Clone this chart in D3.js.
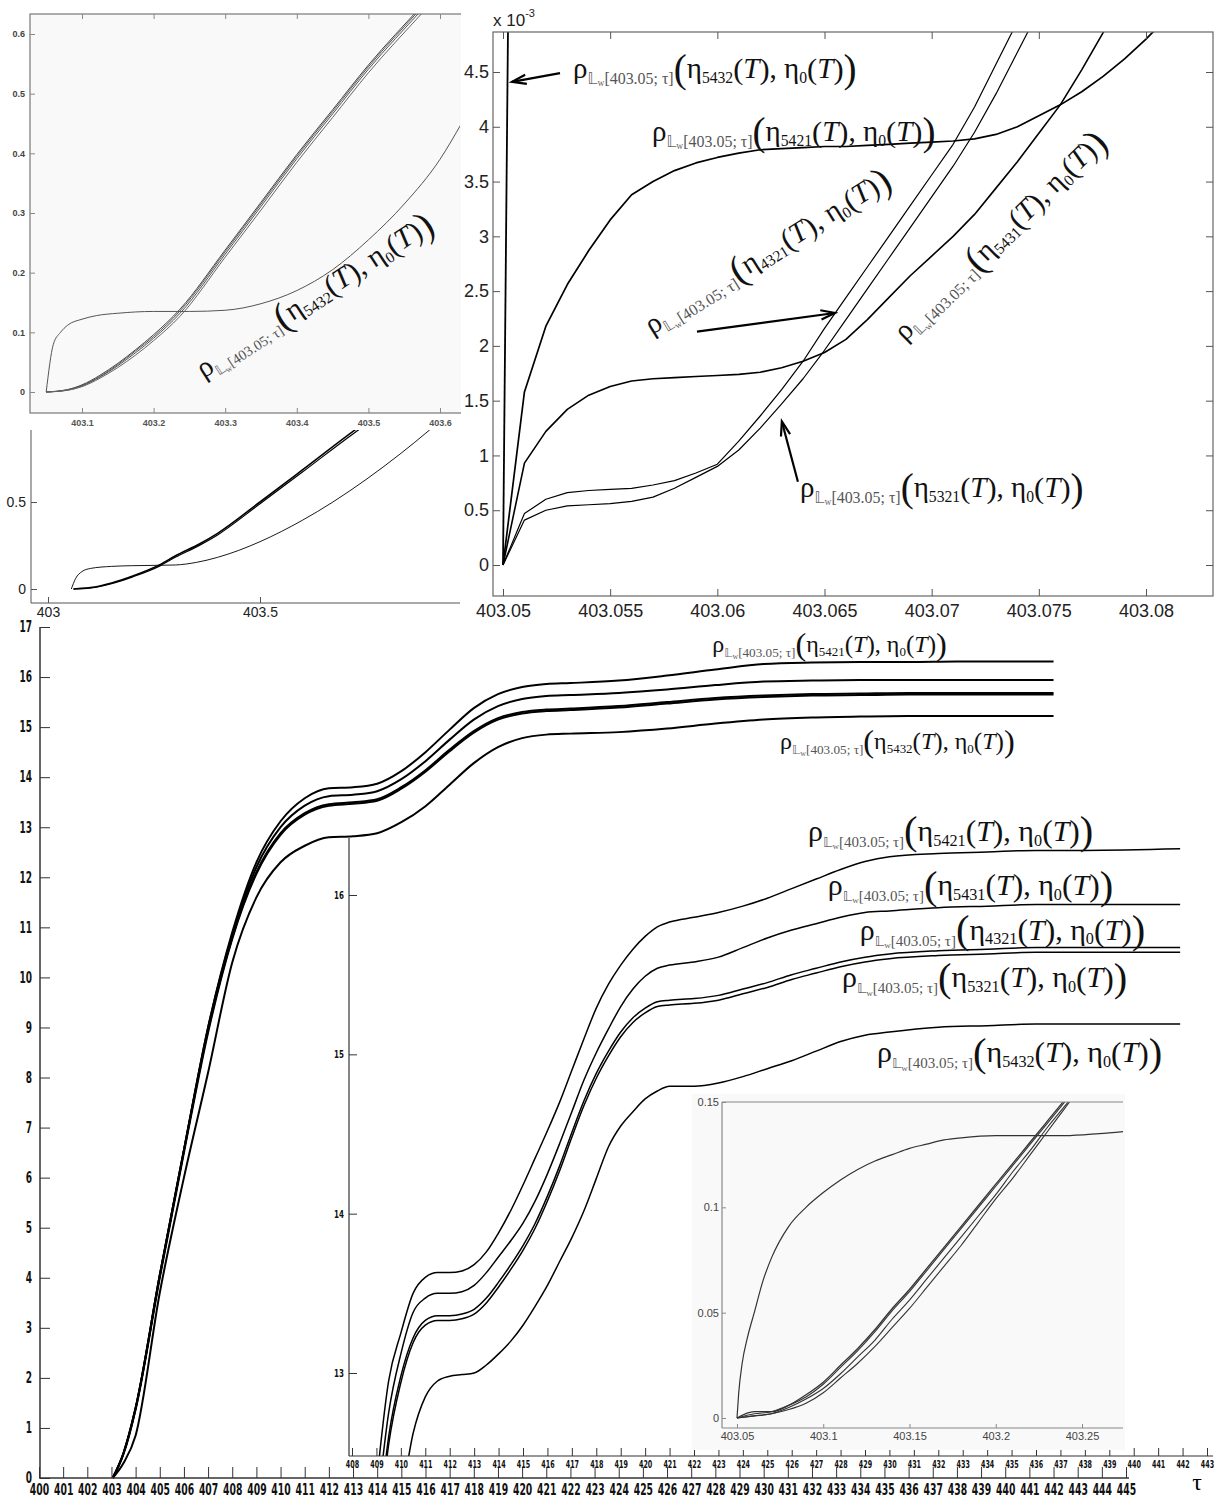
<!DOCTYPE html>
<html><head><meta charset="utf-8">
<script src="https://cdnjs.cloudflare.com/ajax/libs/d3/7.8.5/d3.min.js"></script>
<style>body{margin:0;background:#fff}svg{display:block}</style>
</head><body>
<svg id="c" width="1215" height="1501"></svg>
<script>
// ---------------- DATA ----------------
// Panel A (top-left, τ 403.03–403.63)
const aTauPlateau = [403.05,403.06,403.07,403.08,403.1,403.12,403.15,403.2,403.25,403.3,403.35,403.4,403.45,403.5,403.55,403.6,403.63];
const a5432 = [0,0.08,0.1,0.112,0.122,0.128,0.132,0.135,0.135,0.137,0.148,0.17,0.205,0.255,0.315,0.39,0.45];
const aTauCluster = [403.05,403.08,403.1,403.125,403.15,403.175,403.2,403.237,403.3,403.35,403.4,403.45,403.5,403.575,403.6];
const a5421 = [0,0.004,0.012,0.028,0.048,0.071,0.096,0.139,0.238,0.318,0.398,0.473,0.548,0.648,0.681];
const a5431 = [0,0.004,0.011,0.026,0.046,0.069,0.093,0.136,0.235,0.315,0.395,0.47,0.545,0.645,0.678];
const a4321 = [0,0.003,0.010,0.025,0.044,0.066,0.09,0.132,0.231,0.311,0.391,0.466,0.541,0.641,0.674];
const a5321 = [0,0.003,0.009,0.023,0.041,0.062,0.086,0.127,0.226,0.305,0.385,0.46,0.535,0.635,0.668];
const aXTicks = [403.1,403.2,403.3,403.4,403.5,403.6];
const aYTicks = [0,0.1,0.2,0.3,0.4,0.5,0.6];

// Panel B (middle-left, τ 402.96–403.97)
const bTauPlateau = [403.055,403.065,403.08,403.1,403.15,403.2,403.3,403.35,403.4,403.45,403.5,403.55,403.6,403.67,403.75,403.83,403.9,403.95];
const b5432 = [0,0.06,0.1,0.118,0.13,0.134,0.138,0.153,0.182,0.222,0.272,0.33,0.395,0.497,0.629,0.775,0.914,1.02];
const bTauCluster = [403.06,403.1,403.15,403.2,403.264,403.3,403.358,403.4,403.5,403.6,403.724,403.75];
const bUpper = [0,0.008,0.035,0.075,0.14,0.19,0.26,0.32,0.5,0.684,0.914,0.96];
const bLower = [0,0.006,0.031,0.07,0.133,0.182,0.252,0.311,0.49,0.672,0.9,0.945];
const bXTicks = [403,403.5];
const bYTicks = [0,0.5];

// Panel C (top-right, ×10^-3)
const cTau = [403.050,403.051,403.052,403.053,403.054,403.055,403.056,403.057,403.058,403.059,403.060,403.061,403.062,403.063,403.064,403.065,403.066,403.067,403.068,403.069,403.070,403.071,403.072,403.073,403.074,403.075,403.076,403.077,403.078,403.079,403.080,403.081];
const c5432 = [0,21];
const c5421 = [0,1.58,2.18,2.56,2.87,3.15,3.38,3.5,3.6,3.67,3.72,3.76,3.79,3.8,3.81,3.82,3.82,3.83,3.84,3.85,3.86,3.87,3.89,3.93,4.0,4.1,4.2,4.32,4.46,4.62,4.8,5.0];
const c5431 = [0,0.93,1.22,1.42,1.55,1.63,1.68,1.70,1.71,1.72,1.73,1.74,1.76,1.8,1.86,1.94,2.06,2.24,2.44,2.64,2.82,3.0,3.2,3.44,3.68,3.94,4.2,4.52,4.86,5.2];
const c4321 = [0,0.47,0.60,0.66,0.68,0.69,0.70,0.73,0.77,0.84,0.92,1.13,1.36,1.6,1.86,2.16,2.44,2.72,3.0,3.28,3.56,3.84,4.18,4.57,4.96,5.36];
const c5321 = [0,0.41,0.50,0.54,0.55,0.56,0.58,0.62,0.70,0.80,0.90,1.05,1.25,1.47,1.7,1.96,2.24,2.52,2.8,3.08,3.36,3.64,3.95,4.3,4.68,5.06];
const cXTicks = [403.05,403.055,403.06,403.065,403.07,403.075,403.08];
const cYTicks = [0,0.5,1,1.5,2,2.5,3,3.5,4,4.5];

// Panel D (bottom, full range)
const dTau = [403.05,403.5,404,405,406,407,408,409,410,411,412,413,414,415,416,417,418,419,420,421,422,424,426,428,430,432,434,436,438,442];
const d5421 = [0,0.5,1.4,4.05,6.55,9.0,10.9,12.3,13.12,13.58,13.78,13.8,13.87,14.12,14.5,14.95,15.38,15.66,15.8,15.86,15.88,15.93,16.03,16.15,16.26,16.29,16.3,16.3,16.31,16.31];
const d5431 = [0,0.5,1.4,4.05,6.55,9.0,10.85,12.2,13.0,13.43,13.62,13.65,13.72,13.96,14.32,14.75,15.15,15.42,15.56,15.62,15.64,15.68,15.75,15.84,15.91,15.93,15.94,15.94,15.94,15.94];
const d4321 = [0,0.5,1.4,4.05,6.55,8.95,10.8,12.1,12.88,13.28,13.46,13.5,13.56,13.8,14.14,14.55,14.92,15.18,15.3,15.35,15.37,15.42,15.5,15.58,15.63,15.66,15.67,15.68,15.68,15.68];
const d5321 = [0,0.48,1.37,4.0,6.5,8.9,10.77,12.07,12.85,13.25,13.43,13.47,13.53,13.77,14.11,14.52,14.89,15.15,15.27,15.32,15.34,15.39,15.47,15.55,15.6,15.63,15.64,15.65,15.65,15.65];
const d5432 = [0,0.3,0.85,3.7,6.0,8.1,10.3,11.6,12.3,12.63,12.8,12.82,12.88,13.1,13.42,13.85,14.28,14.6,14.78,14.85,14.87,14.9,14.97,15.07,15.15,15.19,15.21,15.22,15.22,15.22];
const dXTicks = [400,401,402,403,404,405,406,407,408,409,410,411,412,413,414,415,416,417,418,419,420,421,422,423,424,425,426,427,428,429,430,431,432,433,434,435,436,437,438,439,440,441,442,443,444,445];
const dYTicks = [0,1,2,3,4,5,6,7,8,9,10,11,12,13,14,15,16,17];

// Panel E (middle inset)
const eTau = [409,409.5,410,410.5,411,411.5,412,412.5,413,413.5,414,414.5,415,415.5,416,416.5,417,417.5,418,418.5,419,419.5,420,420.5,421,422,423,424,425,426,427,428,429,430,432,434,436,438,441.9];
const e5421 = [12.3,12.95,13.25,13.5,13.6,13.63,13.63,13.64,13.68,13.76,13.88,14.02,14.18,14.35,14.52,14.7,14.9,15.1,15.29,15.44,15.56,15.66,15.74,15.8,15.83,15.86,15.89,15.93,15.98,16.04,16.1,16.16,16.21,16.24,16.26,16.27,16.28,16.28,16.29];
const e5431 = [12.1,12.75,13.12,13.38,13.47,13.5,13.5,13.51,13.55,13.63,13.73,13.83,13.94,14.08,14.25,14.44,14.64,14.84,15.01,15.16,15.3,15.41,15.49,15.54,15.56,15.58,15.61,15.67,15.73,15.78,15.82,15.86,15.89,15.9,15.92,15.93,15.94,15.94,15.94];
const e4321 = [11.9,12.6,12.98,13.22,13.33,13.36,13.36,13.37,13.4,13.47,13.57,13.68,13.8,13.94,14.11,14.3,14.51,14.71,14.88,15.02,15.14,15.23,15.29,15.33,15.34,15.35,15.37,15.41,15.45,15.5,15.54,15.58,15.61,15.63,15.65,15.66,15.67,15.67,15.67];
const e5321 = [11.85,12.55,12.94,13.19,13.3,13.33,13.33,13.34,13.37,13.44,13.54,13.65,13.77,13.91,14.08,14.27,14.48,14.68,14.85,14.99,15.11,15.2,15.26,15.3,15.31,15.32,15.34,15.38,15.42,15.47,15.51,15.55,15.58,15.6,15.62,15.63,15.64,15.64,15.64];
const e5432 = [11.6,11.95,12.2,12.62,12.85,12.95,12.98,12.99,13.0,13.05,13.12,13.2,13.3,13.42,13.55,13.7,13.85,14.02,14.22,14.42,14.55,14.64,14.72,14.77,14.8,14.8,14.82,14.86,14.91,14.96,15.02,15.08,15.12,15.14,15.17,15.18,15.19,15.19,15.19];
const eXTicks = [408,409,410,411,412,413,414,415,416,417,418,419,420,421,422,423,424,425,426,427,428,429,430,431,432,433,434,435,436,437,438,439,440,441,442,443];
const eYTicks = [13,14,15,16];

// Panel F (bottom-right inset)
const fTauPlateau = [403.05,403.051,403.053,403.056,403.06,403.065,403.07,403.08,403.09,403.1,403.11,403.12,403.13,403.14,403.15,403.16,403.17,403.18,403.2,403.22,403.24,403.26,403.274];
const f5432 = [0,0.012,0.026,0.038,0.05,0.065,0.076,0.091,0.1,0.107,0.113,0.118,0.122,0.125,0.128,0.130,0.132,0.133,0.134,0.134,0.134,0.135,0.136];
const fTau = [403.05,403.06,403.07,403.08,403.09,403.10,403.11,403.12,403.13,403.14,403.15,403.16,403.17,403.18,403.19,403.20,403.21,403.22,403.23,403.24,403.25,403.26];
const f5421 = [0,0.003,0.003,0.006,0.011,0.017,0.025,0.033,0.042,0.052,0.061,0.071,0.081,0.091,0.101,0.111,0.121,0.131,0.141,0.151,0.161,0.171];
const f5431 = [0,0.002,0.003,0.006,0.010,0.016,0.024,0.032,0.041,0.051,0.060,0.070,0.080,0.090,0.100,0.110,0.120,0.130,0.140,0.150,0.160,0.170];
const f4321 = [0,0.001,0.002,0.005,0.009,0.014,0.021,0.029,0.037,0.047,0.056,0.066,0.076,0.086,0.096,0.106,0.117,0.127,0.138,0.148,0.158,0.168];
const f5321 = [0,0.001,0.002,0.004,0.007,0.012,0.019,0.026,0.034,0.043,0.052,0.062,0.072,0.082,0.093,0.104,0.114,0.125,0.136,0.147,0.158,0.169];
const fXTicks = [403.05,403.1,403.15,403.2,403.25];
const fYTicks = [0,0.05,0.1,0.15];

// Annotations (label anchors in data coordinates)
const cLabels = [
  {code:"5432", tau:403.05327, v:4.445, rot:0},
  {code:"5421", tau:403.05695, v:3.87, rot:0},
  {code:"4321", tau:403.05695, v:2.10, rot:-32},
  {code:"5431", tau:403.06876, v:2.035, rot:-44.5},
  {code:"5321", tau:403.06386, v:0.62, rot:0}
];
const cArrows = [
  {t0:403.05266, v0:4.49, t1:403.05042, v1:4.41},
  {t0:403.05905, v0:2.13, t1:403.06549, v1:2.30},
  {t0:403.06376, v0:0.76, t1:403.06301, v1:1.31}
];
const dLabels = [
  {code:"5421", tau:427.87, v:16.5},
  {code:"5432", tau:430.68, v:14.56}
];
const eLabels = [
  {code:"5421", tau:426.67, v:16.34},
  {code:"5431", tau:427.48, v:16.0},
  {code:"4321", tau:428.79, v:15.72},
  {code:"5321", tau:428.06, v:15.42},
  {code:"5432", tau:429.49, v:14.95}
];
const aLabel = {code:"5432", tau:403.27, v:0.022, rot:-33};

// ---------------- DRAWING ----------------
const svg = d3.select("#c");
const defs = svg.append("defs");
function clip(id, x, y, w, h){ defs.append("clipPath").attr("id", id).append("rect").attr("x",x).attr("y",y).attr("width",w).attr("height",h); return `url(#${id})`; }
const zip = (t, v) => v.map((val, i) => [t[i], val]);
function drawLine(g, xs, ys, t, v, opt){
  const gen = d3.line().x(d => xs(d[0])).y(d => ys(d[1])).curve(opt.curve || d3.curveLinear);
  g.append("path").attr("d", gen(zip(t, v))).attr("fill","none")
    .attr("stroke", opt.color || "#000").attr("stroke-width", opt.w || 1)
    .attr("stroke-linejoin","round");
}
const SERIF = "'Liberation Serif','DejaVu Serif',serif";
const SANS = "'Liberation Sans',Arial,sans-serif";
const COND = "'DejaVu Sans','Liberation Sans',sans-serif";

function mathLabel(g, x, y, code, s, angle, sub){
  const k = sub || 0.55;
  const t = g.append("text").attr("transform", `translate(${x},${y}) rotate(${angle||0})`)
    .attr("font-family", SERIF).attr("fill", "#111");
  const parts = [
    {t:"ρ", f:1, b:0},
    {t:"𝕃", f:k*0.95, b:0.2, ff:"'DejaVu Sans',sans-serif", c:"#666"},
    {t:"w", f:k*0.6, b:0.28, c:"#666"},
    {t:"[403.05; τ]", f:k, b:0.2, c:"#555"},
    {t:"(", f:1.35, b:0.12},
    {t:"η", f:1, b:0},
    {t:code, f:0.54, b:0.16},
    {t:"(", f:1.05, b:0.04},
    {t:"T", f:1, b:0, it:true},
    {t:")", f:1.05, b:0.04},
    {t:", η", f:1, b:0},
    {t:"0", f:0.54, b:0.16},
    {t:"(", f:1.05, b:0.04},
    {t:"T", f:1, b:0, it:true},
    {t:")", f:1.05, b:0.04},
    {t:")", f:1.35, b:0.12}
  ];
  let cur = 0;
  parts.forEach(p => {
    const ts = t.append("tspan").text(p.t).attr("font-size", (p.f*s).toFixed(2)).attr("dy", ((p.b-cur)*s).toFixed(2));
    cur = p.b;
    if (p.ff) ts.attr("font-family", p.ff);
    if (p.c) ts.attr("fill", p.c);
    if (p.it) ts.attr("font-style", "italic");
  });
}
function arrow(g, x0, y0, x1, y1, w){
  g.append("line").attr("x1",x0).attr("y1",y0).attr("x2",x1).attr("y2",y1).attr("stroke","#000").attr("stroke-width",w);
  const a = Math.atan2(y1-y0, x1-x0), L = 15, sp = 0.32;
  const p1 = [x1 - L*Math.cos(a-sp), y1 - L*Math.sin(a-sp)];
  const p2 = [x1 - L*Math.cos(a+sp), y1 - L*Math.sin(a+sp)];
  g.append("path").attr("d", `M${p1[0]},${p1[1]}L${x1},${y1}L${p2[0]},${p2[1]}`)
    .attr("fill","none").attr("stroke","#000").attr("stroke-width", w);
}
function styleAxis(sel, color, font, size, weight, tcol, squeeze){
  sel.select(".domain").remove();
  sel.selectAll(".tick line").attr("stroke", color);
  const tx = sel.selectAll(".tick text").attr("font-family", font).attr("font-size", size).attr("font-weight", weight || "normal").attr("fill", tcol || color);
  if (squeeze) tx.each(function(){
    const el = d3.select(this);
    const x = +el.attr("x") || 0;
    el.attr("x", x / squeeze).attr("transform", `scale(${squeeze},1)`);
  });
}

// ===== Panel A =====
{
  const g = svg.append("g");
  const xA = d3.scaleLinear([403.1, 403.6], [82, 440]);
  const yA = d3.scaleLinear([0, 0.6], [392, 34]);
  g.append("rect").attr("x",30).attr("y",14).attr("width",440).attr("height",399).attr("fill","#f9f9f9").attr("stroke","#777").attr("stroke-width",1.2);
  const cl = clip("clA", 30, 14, 430, 399);
  const lg = g.append("g").attr("clip-path", cl);
  [[a5421,"#444"],[a5431,"#555"],[a4321,"#555"],[a5321,"#666"]].forEach(([v,c]) => drawLine(lg, xA, yA, aTauCluster, v, {curve:d3.curveMonotoneX, color:c, w:1}));
  drawLine(lg, xA, yA, aTauPlateau, a5432, {curve:d3.curveMonotoneX, color:"#555", w:1});
  g.append("g").attr("transform","translate(0,413)").call(d3.axisBottom(xA).tickValues(aXTicks).tickSize(-5).tickPadding(7).tickFormat(d=>d))
    .call(s => styleAxis(s, "#888", SANS, 9, "bold", "#555"));
  g.append("g").attr("transform","translate(0,14)").call(d3.axisTop(xA).tickValues(aXTicks).tickSize(-5).tickFormat(""))
    .call(s => styleAxis(s, "#888"));
  g.append("g").attr("transform","translate(30,0)").call(d3.axisLeft(yA).tickValues(aYTicks).tickSize(-5).tickPadding(5).tickFormat(d=>d))
    .call(s => styleAxis(s, "#888", SANS, 9, "bold", "#444"));
  mathLabel(g, xA(aLabel.tau), yA(aLabel.v), aLabel.code, 29, aLabel.rot, 0.5);
}

// ===== Panel B =====
{
  const g = svg.append("g");
  const xB = d3.scaleLinear([403, 403.5], [48, 260]);
  const yB = d3.scaleLinear([0, 0.5], [589, 502]);
  g.append("rect").attr("x",0).attr("y",431).attr("width",460).attr("height",190).attr("fill","#fff");
  const cl = clip("clB", 31, 430, 429, 173);
  const lg = g.append("g").attr("clip-path", cl);
  drawLine(lg, xB, yB, bTauCluster, bUpper, {curve:d3.curveMonotoneX, w:1.6});
  drawLine(lg, xB, yB, bTauCluster, bLower, {curve:d3.curveMonotoneX, w:1.2});
  drawLine(lg, xB, yB, bTauPlateau, b5432, {curve:d3.curveMonotoneX, w:0.9});
  g.append("line").attr("x1",31).attr("x2",31).attr("y1",430).attr("y2",603).attr("stroke","#555");
  g.append("line").attr("x1",31).attr("x2",460).attr("y1",603).attr("y2",603).attr("stroke","#555");
  g.append("g").attr("transform","translate(0,603)").call(d3.axisBottom(xB).tickValues(bXTicks).tickSize(-6).tickPadding(4).tickFormat(d=>d))
    .call(s => styleAxis(s, "#555", SANS, 14, "normal", "#222"));
  g.append("g").attr("transform","translate(31,0)").call(d3.axisLeft(yB).tickValues(bYTicks).tickSize(-6).tickPadding(5).tickFormat(d=>d))
    .call(s => styleAxis(s, "#555", SANS, 14, "normal", "#222"));
}

// ===== Panel C =====
{
  const g = svg.append("g");
  const xC = d3.scaleLinear([403.05, 403.08], [503, 1146]);
  const yC = d3.scaleLinear([0, 4.5], [565, 72]);
  g.append("rect").attr("x",461).attr("y",0).attr("width",754).attr("height",622).attr("fill","#fff");
  const cl = clip("clC", 493, 32, 720, 564);
  const lg = g.append("g").attr("clip-path", cl);
  drawLine(lg, xC, yC, cTau, c5432, {w:1.8});
  drawLine(lg, xC, yC, cTau, c5421, {w:1.7});
  drawLine(lg, xC, yC, cTau, c5431, {w:1.6});
  drawLine(lg, xC, yC, cTau, c4321, {w:1.2});
  drawLine(lg, xC, yC, cTau, c5321, {w:1.2});
  g.append("rect").attr("x",493).attr("y",32).attr("width",720).attr("height",564).attr("fill","none").attr("stroke","#666").attr("stroke-width",1.2);
  g.append("g").attr("transform","translate(0,596)").call(d3.axisBottom(xC).tickValues(cXTicks).tickSize(-7).tickPadding(8).tickFormat(d=>d))
    .call(s => styleAxis(s, "#555", SANS, 18, "normal", "#222"));
  g.append("g").attr("transform","translate(0,32)").call(d3.axisTop(xC).tickValues(cXTicks).tickSize(-7).tickFormat(""))
    .call(s => styleAxis(s, "#555"));
  g.append("g").attr("transform","translate(493,0)").call(d3.axisLeft(yC).tickValues(cYTicks).tickSize(-7).tickPadding(4).tickFormat(d=>d))
    .call(s => styleAxis(s, "#555", SANS, 18, "normal", "#222"));
  g.append("g").attr("transform","translate(1213,0)").call(d3.axisRight(yC).tickValues(cYTicks).tickSize(-7).tickFormat(""))
    .call(s => styleAxis(s, "#555"));
  const ex = g.append("text").attr("x",493).attr("y",26).attr("font-family",SANS).attr("font-size",17).attr("fill","#222");
  ex.append("tspan").text("x 10");
  ex.append("tspan").text("-3").attr("font-size",11).attr("dy",-9);
  cLabels.forEach(L => mathLabel(g, xC(L.tau), yC(L.v), L.code, 29, L.rot, 0.55));
  cArrows.forEach(A => arrow(g, xC(A.t0), yC(A.v0), xC(A.t1), yC(A.v1), 2.2));
}

// ===== Panel D =====
const xD = d3.scaleLinear([400, 445], [39, 1126]);
const yD = d3.scaleLinear([0, 17], [1478, 627]);
{
  const g = svg.append("g");
  const lg = g.append("g").attr("clip-path", clip("clD", 40, 620, 1175, 860));
  [d5432, d5321, d4321, d5431, d5421].forEach(v => drawLine(lg, xD, yD, dTau, v, {curve:d3.curveMonotoneX, w:2}));
  g.append("line").attr("x1",40).attr("x2",40).attr("y1",627).attr("y2",1478).attr("stroke","#333").attr("stroke-width",1.5);
  g.append("line").attr("x1",39).attr("x2",1129).attr("y1",1478).attr("y2",1478).attr("stroke","#333").attr("stroke-width",1.5);
  g.append("g").attr("transform","translate(40,0)").call(d3.axisLeft(yD).tickValues(dYTicks).tickSize(-10).tickPadding(8).tickFormat(d=>d))
    .call(s => styleAxis(s, "#333", COND, 15, "bold", "#111", 0.6));
  g.append("g").attr("transform","translate(0,1478)").call(d3.axisBottom(xD).tickValues(dXTicks).tickSize(-11).tickPadding(6).tickFormat(d=>d))
    .call(s => styleAxis(s, "#333", COND, 15, "bold", "#111", 0.62));
  g.append("text").attr("x",1197).attr("y",1490).attr("font-family",SERIF).attr("font-size",24).attr("text-anchor","middle").text("τ");
  dLabels.forEach(L => mathLabel(g, xD(L.tau), yD(L.v), L.code, 24, 0, 0.55));
}

// ===== Panel E =====
{
  const g = svg.append("g");
  const xE = d3.scaleLinear([408, 443], [352, 1207]);
  const yE = d3.scaleLinear([13, 16], [1373, 895]);
  const lg = g.append("g").attr("clip-path", clip("clE", 349, 838, 864, 618));
  [e5432, e5321, e4321, e5431, e5421].forEach(v => drawLine(lg, xE, yE, eTau, v, {curve:d3.curveMonotoneX, w:1.5}));
  g.append("line").attr("x1",349).attr("x2",349).attr("y1",838).attr("y2",1456).attr("stroke","#333").attr("stroke-width",1.2);
  g.append("line").attr("x1",349).attr("x2",1213).attr("y1",1456).attr("y2",1456).attr("stroke","#333").attr("stroke-width",1.2);
  g.append("g").attr("transform","translate(349,0)").call(d3.axisLeft(yE).tickValues(eYTicks).tickSize(-8).tickPadding(5).tickFormat(d=>d))
    .call(s => styleAxis(s, "#333", COND, 11, "bold", "#111", 0.65));
  g.append("g").attr("transform","translate(0,1456)").call(d3.axisBottom(xE).tickValues(eXTicks).tickSize(-8).tickPadding(4).tickFormat(d=>d))
    .call(s => styleAxis(s, "#333", COND, 11, "bold", "#111", 0.58));
  eLabels.forEach(L => mathLabel(g, xE(L.tau), yE(L.v), L.code, 30, 0, 0.5));
}

// ===== Panel F =====
{
  const g = svg.append("g");
  const xF = d3.scaleLinear([403.05, 403.25], [737, 1082]);
  const yF = d3.scaleLinear([0, 0.15], [1418, 1102]);
  g.append("rect").attr("x",692).attr("y",1094).attr("width",433).attr("height",356).attr("fill","#f9f9f9");
  const lg = g.append("g").attr("clip-path", clip("clF", 722, 1102, 401, 326));
  drawLine(lg, xF, yF, fTauPlateau, f5432, {curve:d3.curveMonotoneX, color:"#333", w:1.2});
  [[f5421,1.3],[f5431,1.1],[f4321,1.1],[f5321,1.1]].forEach(([v,w]) => drawLine(lg, xF, yF, fTau, v, {curve:d3.curveMonotoneX, color:"#333", w:w}));
  g.append("line").attr("x1",722).attr("x2",1123).attr("y1",1102).attr("y2",1102).attr("stroke","#888").attr("stroke-width",1.2);
  g.append("line").attr("x1",722).attr("x2",722).attr("y1",1102).attr("y2",1428).attr("stroke","#888").attr("stroke-width",1.2);
  g.append("line").attr("x1",722).attr("x2",1123).attr("y1",1428).attr("y2",1428).attr("stroke","#888").attr("stroke-width",1.2);
  g.append("g").attr("transform","translate(0,1428)").call(d3.axisBottom(xF).tickValues(fXTicks).tickSize(-4).tickPadding(4).tickFormat(d=>d))
    .call(s => styleAxis(s, "#888", SANS, 11, "normal", "#444"));
  g.append("g").attr("transform","translate(722,0)").call(d3.axisLeft(yF).tickValues(fYTicks).tickSize(-4).tickPadding(3).tickFormat(d=>d))
    .call(s => styleAxis(s, "#888", SANS, 11, "normal", "#444"));
}
</script>
</body></html>
